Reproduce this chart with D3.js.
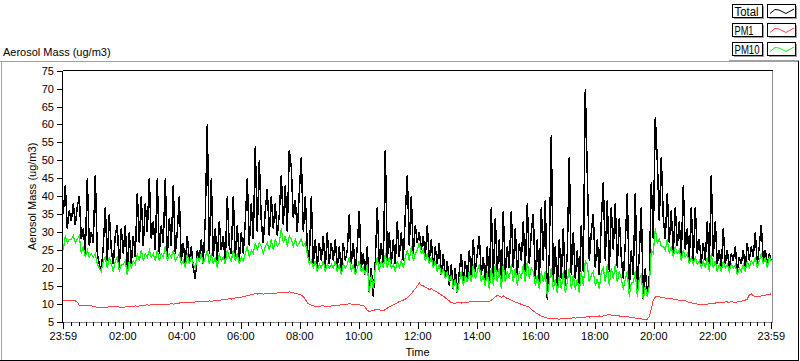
<!DOCTYPE html>
<html><head><meta charset="utf-8">
<script src="https://cdn.jsdelivr.net/npm/d3@7"></script>
<style>
html,body{margin:0;padding:0;background:#fff;}
text{font-family:"Liberation Sans",Arial,sans-serif;font-size:11px;fill:#000;}
</style></head><body>
<svg id="c" width="800" height="361"></svg>
<script>
// ---- data (one sample every ~4.07 min from 23:59 to 23:59) ----
const seriesNames = ["Total", "PM1", "PM10"];
const yTicks = [5,10,15,20,25,30,35,40,45,50,55,60,65,70,75];
const xTickLabels = ["23:59","02:00","04:00","06:00","08:00","10:00","12:00","14:00","16:00","18:00","20:00","22:00","23:59"];
const total = [
35,43,31,36,33,38,32,37,40,28,31,24,45,26,30,
27,46,24,21,19,26,37,22,35,25,21,29,32,20,31,
24,32,19,30,21,29,23,41,27,40,26,38,30,45,28,
33,25,45,24,32,27,45,23,34,26,43,24,30,40,22,
27,21,29,22,26,20,17,25,22,28,21,34,60,24,45,
23,31,22,33,25,29,21,40,26,24,40,23,32,22,30,
24,33,45,26,38,28,54,30,50,33,27,36,42,29,40,
31,38,29,35,46,32,43,30,53,48,34,39,30,41,51,
30,40,26,22,40,21,28,20,27,22,29,20,30,21,27,
22,28,20,26,19,27,22,25,35,21,27,19,26,36,20,
24,18,26,13,20,12,22,37,21,27,20,53,22,30,21,
28,21,33,23,30,22,35,46,26,40,24,32,27,30,25,
29,23,32,22,28,20,26,21,27,18,24,17,22,15,21,
14,20,13,19,24,16,22,17,25,18,28,19,24,29,18,
23,16,26,15,37,17,34,19,28,15,36,18,26,20,36,
20,31,18,27,22,33,19,38,21,30,35,17,28,15,37,
22,39,11,24,57,16,26,14,28,17,31,15,24,51,18,
30,17,25,15,32,19,70,46,22,30,35,20,28,18,33,
44,22,39,19,37,25,38,20,34,23,17,27,41,14,25,
18,41,13,24,37,11,20,12,18,44,28,62,50,33,51,
34,28,41,27,36,24,37,26,33,23,43,25,31,22,37,
22,37,24,28,21,27,22,33,20,46,23,33,21,25,20,
31,21,25,20,24,22,26,19,23,21,25,20,27,22,26,
23,30,21,26,32,22,25,21,24,22
];
const pm10 = [
25,29,27,28,28,29,27,28,29,24,26,23,25,23,24,
23,24,21,20,19,22,23,20,23,21,19,22,23,19,21,
21,22,18,22,20,22,21,24,22,25,22,24,23,25,23,
24,22,25,22,24,23,26,22,24,23,25,22,23,24,21,
22,20,24,21,23,21,20,23,22,24,21,23,25,21,24,
21,23,20,24,22,23,21,25,23,22,25,22,24,21,23,
22,24,26,23,25,24,27,25,27,26,24,26,27,25,28,
25,28,26,27,31,27,29,26,29,28,26,28,26,27,28,
26,27,24,21,22,20,22,19,21,20,22,19,21,20,21,
20,22,19,21,18,21,20,21,23,19,21,18,20,22,19,
20,18,21,13,18,14,20,23,19,22,20,24,20,23,20,
21,19,22,20,22,20,23,25,22,26,22,24,25,27,24,
25,22,24,21,23,20,22,19,21,18,20,17,19,16,18,
14,17,13,16,19,15,18,16,19,16,21,17,19,21,16,
18,15,19,14,20,15,21,16,20,14,21,16,19,17,21,
16,20,15,19,17,21,16,22,17,20,19,15,18,14,19,
16,19,12,16,20,14,17,13,18,14,19,13,16,20,14,
18,14,17,13,19,15,22,21,16,18,19,15,17,14,19,
20,16,21,15,20,17,21,16,19,17,14,17,19,12,16,
16,19,12,17,18,11,15,12,15,25,24,31,27,28,26,
26,25,28,24,26,23,26,24,25,22,25,23,24,21,23,
21,23,21,22,20,22,20,23,19,24,20,22,19,21,19,
22,20,21,19,21,20,21,18,20,19,21,19,22,20,22,
21,23,20,22,24,21,23,20,23,22
];
const pm1 = [
11,11,11,11,11,10.9,10.8,10.5,9.6,9.5,9.5,9.4,9.5,9.4,9.4,
9.3,9.2,9.0,8.9,9.0,9.0,9.1,9.0,9.2,9.1,9.2,9.2,9.2,9.1,9.0,
9.0,9.1,9.2,9.3,9.3,9.2,9.4,9.3,9.4,9.5,9.6,9.6,9.7,9.6,9.7,
9.7,9.8,9.8,9.7,9.8,9.9,9.9,9.8,9.9,10.0,9.9,10.0,10.1,10.2,10.3,
10.3,10.4,10.3,10.4,10.5,10.4,10.5,10.5,10.6,10.6,10.5,10.7,10.6,10.8,10.7,
10.8,10.9,11.0,10.9,11.1,11.2,11.1,11.3,11.4,11.3,11.5,11.6,11.7,11.6,11.8,
12.0,12.1,12.3,12.4,12.6,12.7,12.8,12.7,12.9,12.8,12.7,12.8,12.9,12.8,12.9,
12.9,13.0,13.0,13.1,13.1,13.2,13.1,13.2,13.3,13.2,13.1,12.9,12.8,12.6,12.4,
12.0,11.2,10.3,9.8,9.6,9.4,9.3,9.3,9.3,9.4,9.4,9.3,9.3,9.3,9.4,
9.4,9.5,9.6,9.6,9.7,9.8,9.8,9.9,10.0,9.9,9.9,9.8,9.8,9.7,9.5,
9.5,9.0,8.2,7.8,8.0,8.2,8.3,8.4,8.3,8.1,8.0,8.4,8.8,9.1,9.4,
9.7,10.0,10.3,10.6,10.8,11.0,11.3,11.6,12.2,12.8,13.5,14.2,15.0,15.8,15.2,
15.0,14.6,14.3,14.0,14.2,13.8,13.5,13.2,12.9,12.5,12.1,11.7,11.2,10.8,10.3,
10.2,10.1,10.3,10.4,10.2,10.4,10.5,10.4,10.5,10.6,10.5,10.6,10.5,10.6,10.5,
10.6,10.5,10.6,10.7,11.0,11.4,11.9,12.4,12.1,11.8,12.2,11.8,11.5,11.3,11.0,
10.7,10.4,10.3,10.1,9.8,9.6,9.4,9.3,9.1,8.5,8.0,7.6,7.2,6.9,6.6,
6.4,6.2,6.0,5.9,5.9,5.8,5.9,5.8,5.7,5.8,5.9,5.8,5.9,6.0,6.0,
6.1,6.0,6.2,6.3,6.2,6.3,6.2,6.4,6.3,6.4,6.5,6.4,6.5,6.6,6.5,
6.6,6.7,6.9,7.0,6.8,6.7,6.6,6.7,6.6,6.5,6.5,6.4,6.5,6.3,6.2,
6.1,6.0,5.9,5.8,5.8,5.7,5.6,5.7,6.5,8.5,11.0,11.9,12.0,11.9,11.8,
11.7,11.6,11.5,11.5,11.4,11.3,11.2,11.1,11.0,11.0,10.9,10.8,10.6,10.4,10.3,
10.1,10.0,9.9,9.8,9.8,9.8,9.9,9.9,10.0,10.1,10.2,10.2,10.3,10.4,10.3,
10.4,10.5,10.5,10.4,10.6,10.5,10.4,10.5,10.6,10.7,11.0,11.0,11.3,12.5,12.8,
12.2,12.0,11.9,12.1,12.2,12.3,12.4,12.5,12.6,12.8
];
const colors = {Total:"#000000", PM1:"#ff4040", PM10:"#00ff00"};
const legendTextWidth = {Total:24, PM1:19, PM10:25};

// ---- layout ----
const svg = d3.select("#c");
const L = 62.5, R = 772.5, T = 70.5, B = 322.5;
const t0 = new Date(2020,0,1,23,59), t1 = new Date(2020,0,2,23,59);
const x = d3.scaleTime().domain([t0,t1]).range([63.3, 771.3]);
const y = d3.scaleLinear().domain([5,75]).range([321.7, 70.7]);
const n = total.length;
const step = (t1 - t0) / (n - 1);
const timeAt = i => new Date(+t0 + i*step);

// outer frame
const g0 = svg.append("g").attr("shape-rendering","crispEdges");
g0.append("line").attr("x1",0).attr("x2",799).attr("y1",61.5).attr("y2",61.5).attr("stroke","#a0a0a0");
g0.append("line").attr("x1",729).attr("x2",799).attr("y1",60.5).attr("y2",60.5).attr("stroke","#a0a0a0");
g0.append("line").attr("x1",1.5).attr("x2",1.5).attr("y1",61).attr("y2",361).attr("stroke","#a0a0a0");
g0.append("line").attr("x1",0).attr("x2",799).attr("y1",360.5).attr("y2",360.5).attr("stroke","#000");
g0.append("line").attr("x1",798.5).attr("x2",798.5).attr("y1",61).attr("y2",361).attr("stroke","#000");

// title
svg.append("text").attr("x",3).attr("y",56).text("Aerosol Mass (ug/m3)");

// clip
svg.append("clipPath").attr("id","clip").append("rect")
  .attr("x",L).attr("y",T).attr("width",R-L).attr("height",B-T);

// lines
const lineFor = arr => d3.line().x((d,i)=>x(timeAt(i))).y(d=>y(d))(arr);
const plots = svg.append("g").attr("clip-path","url(#clip)");
[["Total",total,1.5],["PM1",pm1,1],["PM10",pm10,1.2]].forEach(([k,arr,w])=>{
  plots.append("path").attr("d",lineFor(arr)).attr("fill","none")
    .attr("stroke",colors[k]).attr("stroke-width",w).attr("shape-rendering","crispEdges");
});

// plot frame
const g1 = svg.append("g").attr("shape-rendering","crispEdges");
g1.append("line").attr("x1",L).attr("x2",R).attr("y1",T).attr("y2",T).attr("stroke","#000");
g1.append("line").attr("x1",L).attr("x2",L).attr("y1",T).attr("y2",B).attr("stroke","#000");
g1.append("line").attr("x1",L).attr("x2",R).attr("y1",B).attr("y2",B).attr("stroke","#8c8c8c");
g1.append("line").attr("x1",R).attr("x2",R).attr("y1",T).attr("y2",B).attr("stroke","#8c8c8c");

// y axis
const ya = svg.append("g");
yTicks.forEach(v=>{
  const yy = Math.round(y(v))+0.5;
  ya.append("line").attr("x1",57).attr("x2",62).attr("y1",yy).attr("y2",yy).attr("stroke","#000").attr("shape-rendering","crispEdges");
  ya.append("text").attr("x",54).attr("y",y(v)+4).attr("text-anchor","end").text(v);
});
svg.append("text").attr("transform",`translate(36,${(T+B)/2}) rotate(-90)`)
  .attr("text-anchor","middle").text("Aerosol Mass (ug/m3)");

// x axis
const majorTimes = xTickLabels.map((s,i)=>{
  if (i===0) return t0;
  if (i===xTickLabels.length-1) return t1;
  const [h,m] = s.split(":").map(Number);
  return new Date(2020,0,2,h,m);
});
const minorTimes = d3.timeMinute.every(15).range(new Date(+t0+60000), t1)
  .filter(d => !(d.getMinutes()===0 && d.getHours()%2===0));
const xa = svg.append("g").attr("shape-rendering","crispEdges");
minorTimes.forEach(d=>{
  const xx = Math.round(x(d))+0.5;
  xa.append("line").attr("x1",xx).attr("x2",xx).attr("y1",322).attr("y2",326).attr("stroke","#000");
});
majorTimes.forEach((d,i)=>{
  const xx = Math.round(x(d))+0.5;
  xa.append("line").attr("x1",xx).attr("x2",xx).attr("y1",322).attr("y2",329).attr("stroke","#000");
  svg.append("text").attr("x",x(d)).attr("y",340).attr("text-anchor","middle").text(xTickLabels[i]);
});
svg.append("text").attr("x",(L+R)/2).attr("y",356).attr("text-anchor","middle").text("Time");

// legend
const lg = svg.append("g");
seriesNames.forEach((k,i)=>{
  const top = 4.5 + i*19;
  const gi = lg.append("g").attr("shape-rendering","crispEdges");
  gi.append("rect").attr("x",732.5).attr("y",top).attr("width",30).attr("height",13).attr("fill","#fff").attr("stroke","#000");
  gi.append("path").attr("d",`M733.5,${top+14}H763.5V${top+1}`).attr("fill","none").attr("stroke","#a0a0a0");
  gi.append("rect").attr("x",767.5).attr("y",top).attr("width",28).attr("height",13).attr("fill","#fff").attr("stroke","#000");
  gi.append("path").attr("d",`M768.5,${top+14}H796.5V${top+1}`).attr("fill","none").attr("stroke","#a0a0a0");
  lg.append("text").attr("x",734.5).attr("y",top+11.5).style("font-size","12.5px")
    .attr("textLength",legendTextWidth[k]).attr("lengthAdjust","spacingAndGlyphs").text(k);
  lg.append("polyline")
    .attr("points",[[770,top+9],[775,top+5],[779,top+5.5],[786,top+9],[794,top+4.5]].map(p=>p.join(",")).join(" "))
    .attr("fill","none").attr("stroke",colors[k]).attr("stroke-width",1);
});
</script>
</body></html>
